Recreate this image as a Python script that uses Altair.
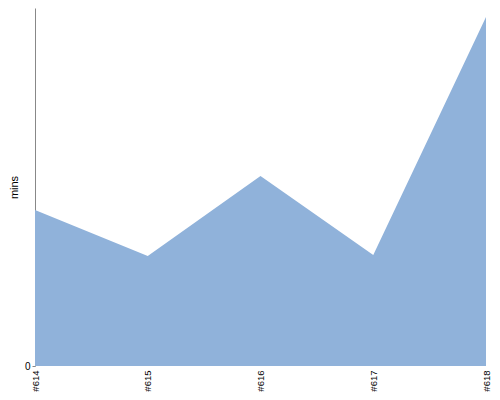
import altair as alt
import pandas as pd

builds = ["#614", "#615", "#616", "#617", "#618"]
mins = [15.6, 11.0, 19.0, 11.1, 34.9]

df = pd.DataFrame({"build": builds, "mins": mins})

chart = alt.Chart(df).mark_area(color="#90b2da", opacity=1, line=False).encode(
    x=alt.X("build:N", sort=builds,
            scale=alt.Scale(type="point", padding=0),
            axis=alt.Axis(title=None, labelAngle=-90, labelFontSize=9.5, labelColor="#000",
                          domain=False, ticks=False, labelPadding=4,
                          labelFont="Liberation Sans")),
    y=alt.Y("mins:Q", scale=alt.Scale(domain=[0, 35.8], nice=False),
            axis=alt.Axis(title="mins", values=[0], grid=False, domainColor="#888",
                          tickColor="#888", tickSize=3, labelFontSize=10, labelColor="#000",
                          titleFontWeight="normal", titleFontSize=11, titleColor="#000",
                          titleFont="Liberation Sans", labelFont="Liberation Sans",
                          titlePadding=5)),
).properties(
    width=451, height=358,
    autosize=alt.AutoSizeParams(type="none"),
    padding={"left": 27, "top": 0, "right": 5, "bottom": 26},
).configure_view(stroke=None)

chart.save("out.html", embed_options={"renderer": "svg", "actions": False})
